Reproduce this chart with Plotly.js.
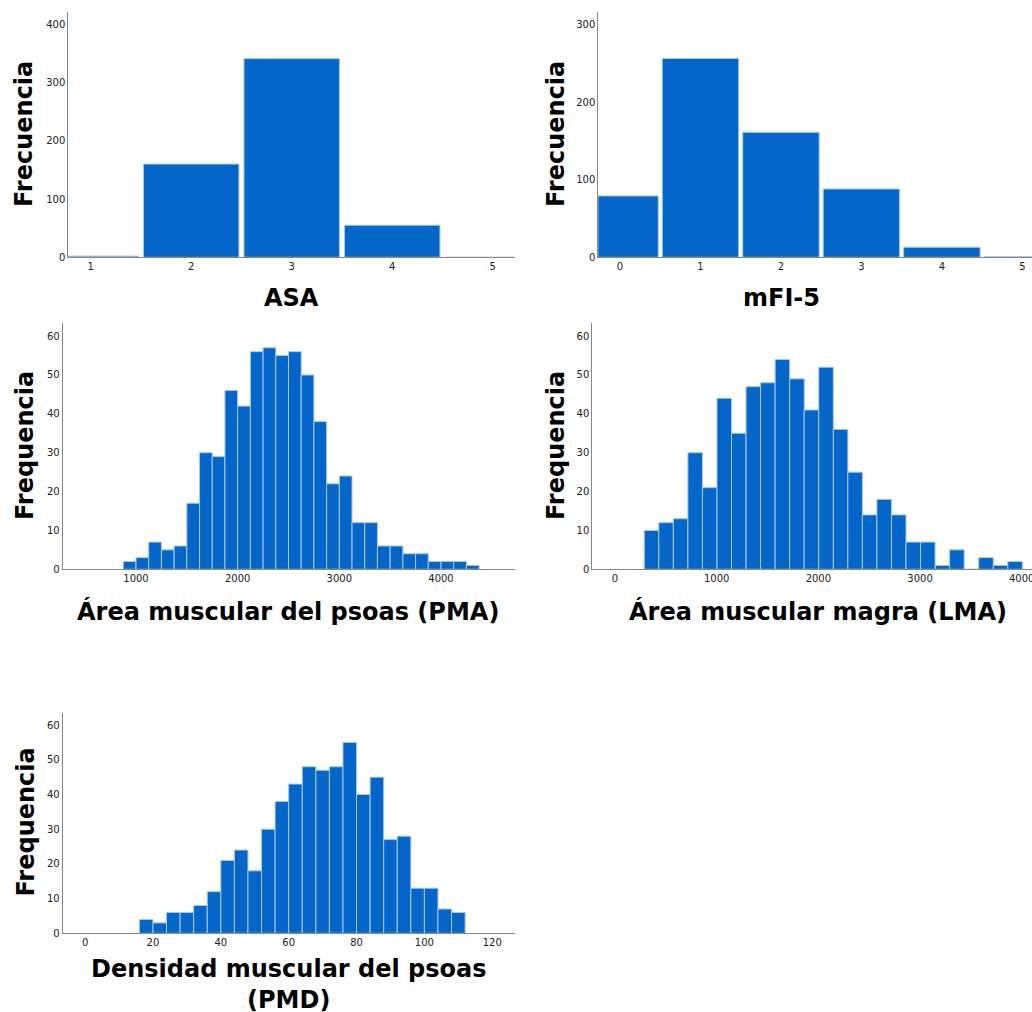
<!DOCTYPE html>
<html>
<head>
<meta charset="utf-8">
<script src="https://cdn.plot.ly/plotly-3.0.1.min.js"></script>
<style>html,body{margin:0;padding:0;background:#fff;}#chart{width:1032px;height:1012px;}</style>
</head>
<body>
<div id="chart"></div>
<script>
// ---- Data ----
const asaCategories = [1, 2, 3, 4, 5];
const asaCounts = [2, 160, 341, 55, 0];

const mfiCategories = [0, 1, 2, 3, 4, 5];
const mfiCounts = [79, 256, 161, 88, 13, 1];

const pmaBinStart = 875;
const pmaBinWidth = 125;
const pmaCounts = [2, 3, 7, 5, 6, 17, 30, 29, 46, 42, 56, 57, 55, 56, 50, 38, 22, 24, 12, 12, 6, 6, 4, 4, 2, 2, 2, 1];

const lmaBinStart = 288;
const lmaBinWidth = 143;
const lmaCounts = [10, 12, 13, 30, 21, 44, 35, 47, 48, 54, 49, 41, 52, 36, 25, 14, 18, 14, 7, 7, 1, 5, 0, 3, 1, 2];

const pmdBinStart = 16;
const pmdBinWidth = 4;
const pmdCounts = [4, 3, 6, 6, 8, 12, 21, 24, 18, 30, 38, 43, 48, 47, 48, 55, 40, 45, 27, 28, 13, 13, 7, 6];

const titles = {
  asa: "ASA",
  mfi: "mFI-5",
  pma: "Área muscular del psoas (PMA)",
  lma: "Área muscular magra (LMA)",
  pmd: "Densidad muscular del psoas<br>(PMD)",
  freq1: "Frecuencia",
  freq2: "Frequencia"
};

// ---- Helpers ----
const W = 1032, H = 1012;
const BAR = '#0466C8', EDGE = '#a6c8f0';
const centers = (start, w, n) => Array.from({length: n}, (_, i) => start + (i + 0.5) * w);
const px = v => v / W;
const py = v => 1 - v / H;

function barTrace(x, y, width, xa, ya) {
  return {type: 'bar', x: x, y: y, width: width, xaxis: xa, yaxis: ya,
    marker: {color: BAR, line: {color: EDGE, width: 1}}, hoverinfo: 'x+y', showlegend: false};
}

const traces = [
  barTrace(asaCategories, asaCounts, 0.95, 'x', 'y'),
  barTrace(mfiCategories, mfiCounts, 0.95, 'x2', 'y2'),
  barTrace(centers(pmaBinStart, pmaBinWidth, pmaCounts.length), pmaCounts, pmaBinWidth, 'x3', 'y3'),
  barTrace(centers(lmaBinStart, lmaBinWidth, lmaCounts.length), lmaCounts, lmaBinWidth, 'x4', 'y4'),
  barTrace(centers(pmdBinStart, pmdBinWidth, pmdCounts.length), pmdCounts, pmdBinWidth, 'x5', 'y5')
];

const tickFont = {family: 'DejaVu Sans', size: 10, color: '#222'};
function xAxis(domain, range, anchor, dtick, tick0) {
  return {domain: domain, range: range, anchor: anchor, showline: true, linecolor: '#888', linewidth: 1,
    showgrid: false, zeroline: false, ticks: '', tickfont: tickFont, dtick: dtick, tick0: tick0,
    ticklabeloverflow: 'allow', fixedrange: true};
}
function yAxis(domain, range, anchor, dtick) {
  return {domain: domain, range: range, anchor: anchor, showline: true, linecolor: '#888', linewidth: 1,
    showgrid: false, zeroline: false, ticks: '', tickfont: tickFont, dtick: dtick, tick0: 0, fixedrange: true};
}

const titleFont = {family: 'DejaVu Sans', size: 24, color: '#000', weight: 'bold'};
function ann(text, x, y, angle) {
  return {text: text, xref: 'paper', yref: 'paper', x: px(x), y: py(y), xanchor: 'center', yanchor: 'middle',
    showarrow: false, font: titleFont, textangle: angle || 0};
}

const layout = {
  width: W, height: H, margin: {l: 0, r: 0, t: 0, b: 0}, paper_bgcolor: '#fff', plot_bgcolor: '#fff',
  bargap: 0, showlegend: false,
  xaxis:  xAxis([px(68.3), px(515)], [0.777, 5.222], 'y', 1, 0),
  yaxis:  yAxis([py(257.3), py(11.7)], [0, 421.6], 'x', 100),
  xaxis2: xAxis([px(598.3), 1], [-0.27, 5.12], 'y2', 1, 0),
  yaxis2: yAxis([py(257.3), py(11.7)], [0, 316.3], 'x2', 100),
  xaxis3: xAxis([px(62.7), px(515)], [279, 4728], 'y3', 1000, 0),
  yaxis3: yAxis([py(569.3), py(323.3)], [0, 63.3], 'x3', 10),
  xaxis4: xAxis([px(592.3), 1], [-223, 4101], 'y4', 1000, 0),
  yaxis4: yAxis([py(569.3), py(323.3)], [0, 63.3], 'x4', 10),
  xaxis5: xAxis([px(62.7), px(515)], [-6.6, 126.7], 'y5', 20, 0),
  yaxis5: yAxis([py(933.3), py(713.3)], [0, 63.4], 'x5', 10),
  annotations: [
    ann(titles.asa, 291.7, 298),
    ann(titles.mfi, 781, 298),
    ann(titles.pma, 288.3, 611),
    ann(titles.lma, 818.3, 611),
    ann(titles.pmd, 288.6, 984),
    ann(titles.freq1, 24, 134, -90),
    ann(titles.freq1, 556, 134, -90),
    ann(titles.freq2, 25, 446, -90),
    ann(titles.freq2, 556, 446, -90),
    ann(titles.freq2, 25, 822.5, -90)
  ]
};

Plotly.newPlot('chart', traces, layout, {displayModeBar: false, staticPlot: true});
</script>
</body>
</html>
